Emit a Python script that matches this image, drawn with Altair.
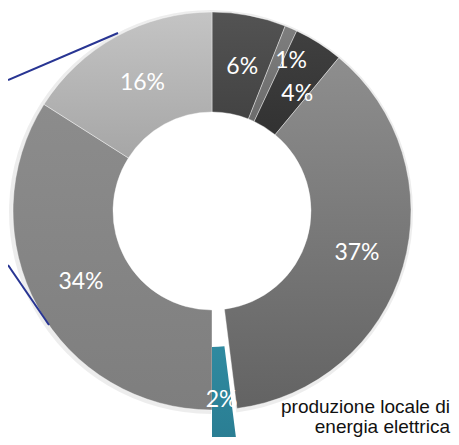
import altair as alt
import pandas as pd
import math

# slice data (clockwise from 12 o'clock)
categories = ["s1", "s2", "s3", "s4", "s5", "s6", "s7"]
values = [6, 1, 4, 37, 2, 34, 16]
labels = ["6%", "1%", "4%", "37%", "2%", "34%", "16%"]
top_colors = ["#535353", "#7e7e7e", "#404040", "#8e8e8e", "#2f8aa0", "#8c8c8c", "#c4c4c4"]
bottom_colors = ["#434343", "#6c6c6c", "#323232", "#636363", "#2a7d92", "#7e7e7e", "#a6a6a6"]
label_radius = [147, 170, 145, 151, 152, 149, 146]
label_shift = [0.3, 1.2, 1.0, 0, 0, 0.1, 0.1]   # small label nudges (value units)

# decorative connector lines (pixel positions, left side)
conn_x = [0, 0]
conn_y = [72, 257]
conn_x2 = [110, 41]
conn_y2 = [25, 317]

df = pd.DataFrame({
    "cat": categories,
    "value": values,
    "label": labels,
    "idx": list(range(len(categories))),
    "lr": label_radius,
    "ls": label_shift,
})

CX, CY = 204, 203
R_IN, R_OUT = 99, 199
EXPLODE_X, EXPLODE_Y = 0, 37
EXPLODED = "s5"
THETA_SCALE = alt.Scale(domain=[0, sum(values)], range=[0, 2 * math.pi])


def grad(top, bottom):
    return {
        "gradient": "linear",
        "x1": 0, "y1": 0, "x2": 0, "y2": 1,
        "stops": [{"offset": 0, "color": top}, {"offset": 1, "color": bottom}],
    }


fill_conditions = [
    {"test": f"datum.cat == '{c}'", "value": grad(t, b)}
    for c, t, b in zip(categories, top_colors, bottom_colors)
]

base = alt.Chart(df).encode(
    theta=alt.Theta("value:Q", stack=True, scale=THETA_SCALE),
    order=alt.Order("idx:O"),
)

text_base = alt.Chart(df).transform_window(
    cum="sum(value)", sort=[{"field": "idx"}]
).transform_calculate(
    mid="datum.cum - datum.value / 2 + datum.ls"
).encode(
    theta=alt.Theta("mid:Q", stack=None, scale=THETA_SCALE),
    radius=alt.Radius("lr:Q", scale=None),
    text="label:N",
)

shadow = base.mark_arc(
    innerRadius=R_OUT - 6, outerRadius=R_OUT + 3, color="#000000"
).encode(
    x=alt.value(CX - 1),
    y=alt.value(CY + 1),
    opacity=alt.condition(f"datum.cat == '{EXPLODED}'", alt.value(0), alt.value(0.07)),
)

ring = base.mark_arc(
    innerRadius=R_IN, outerRadius=R_OUT, stroke="#ffffff", strokeWidth=0.4
).encode(
    x=alt.value(CX),
    y=alt.value(CY),
    fill={"condition": fill_conditions, "value": "#888888"},
    opacity=alt.condition(f"datum.cat == '{EXPLODED}'", alt.value(0), alt.value(1)),
)

ring_labels = text_base.mark_text(
    font="Lato", fontSize=23, color="white"
).encode(
    x=alt.value(CX),
    y=alt.value(CY),
    opacity=alt.condition(f"datum.cat == '{EXPLODED}'", alt.value(0), alt.value(1)),
)

explode = base.mark_arc(
    innerRadius=R_IN, outerRadius=R_OUT
).encode(
    x=alt.value(CX + EXPLODE_X),
    y=alt.value(CY + EXPLODE_Y),
    fill={"condition": fill_conditions, "value": "#888888"},
    opacity=alt.condition(f"datum.cat == '{EXPLODED}'", alt.value(1), alt.value(0)),
)

explode_label = text_base.mark_text(
    font="Lato", fontSize=23, color="white"
).encode(
    x=alt.value(CX + EXPLODE_X),
    y=alt.value(CY + EXPLODE_Y),
    opacity=alt.condition(f"datum.cat == '{EXPLODED}'", alt.value(1), alt.value(0)),
)

conn_df = pd.DataFrame({"x": conn_x, "y": conn_y, "x2": conn_x2, "y2": conn_y2})
connectors = alt.Chart(conn_df).mark_rule(color="#283593", strokeWidth=2).encode(
    x=alt.X("x:Q", scale=None),
    y=alt.Y("y:Q", scale=None),
    x2="x2:Q",
    y2="y2:Q",
)

note = alt.Chart(pd.DataFrame({"t": [0]})).mark_text(
    font="Liberation Sans", fontSize=19, align="right", baseline="alphabetic",
    lineHeight=20, color="#111111",
).encode(
    x=alt.value(442),
    y=alt.value(405),
    text=alt.value(["produzione locale di", "energia elettrica"]),
)

chart = alt.layer(shadow, ring, ring_labels, explode, explode_label, connectors, note).properties(
    width=443, height=429, padding=0, autosize="none"
).configure_view(stroke=None)

chart.save("out.html", embed_options={"renderer": "svg", "actions": False})
